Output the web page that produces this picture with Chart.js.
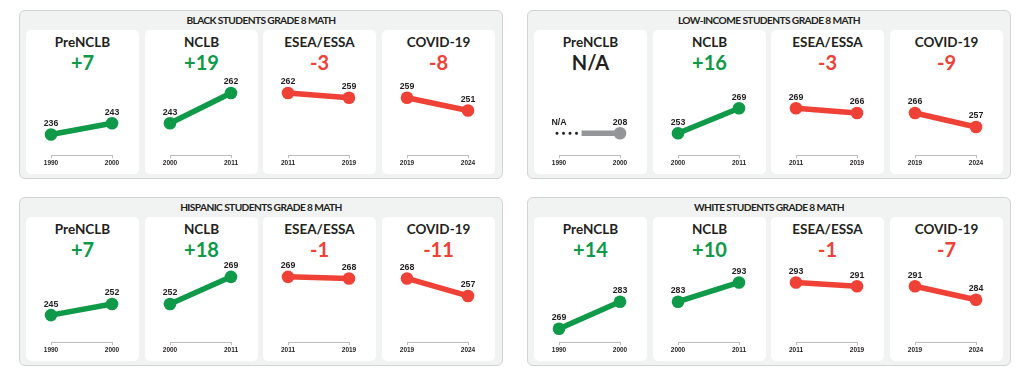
<!DOCTYPE html>
<html lang="en">

<head>
    <meta charset="UTF-8">
    <title>Grade 8 Math</title>
    <script src="https://cdn.jsdelivr.net/npm/chart.js"></script>

    <style>
        body {
            margin: 0;
            width: 1024px;
            height: 375px;
            background-color: #ffffff;
            position: relative;
            font-family: Lato, 'Open Sans', sans-serif;
            color: #231f20;
        }

        .painel {
            position: absolute;
            width: 484px;
            height: 169px;
            box-sizing: border-box;
            background-color: #f1f2f2;
            border: 1px solid #d1d3d4;
            border-radius: 6px;
        }

        .painel-titulo {
            position: absolute;
            top: 3px;
            width: 100%;
            text-align: center;
            font-weight: bold;
            font-size: 10.2px;
            letter-spacing: -0.6px;
        }

        .cartao {
            position: absolute;
            top: 19px;
            width: 113px;
            height: 144px;
            background-color: #ffffff;
            border-radius: 5px;
        }

        .cartao-titulo {
            position: absolute;
            top: 4px;
            width: 100%;
            text-align: center;
            font-weight: bold;
            font-size: 13.5px;
        }

        .cartao-numero {
            position: absolute;
            top: 20px;
            width: 100%;
            text-align: center;
            font-weight: bold;
            font-size: 20px;
        }

        .cartao canvas {
            position: absolute;
            left: 0;
            top: 36px;
        }
    </style>
</head>

<body>
</body>

</html>

<script>
    // dados
    var grupos = ['BLACK STUDENTS GRADE 8 MATH', 'LOW-INCOME STUDENTS GRADE 8 MATH',
        'HISPANIC STUDENTS GRADE 8 MATH', 'WHITE STUDENTS GRADE 8 MATH'];
    var periodos = ['PreNCLB', 'NCLB', 'ESEA/ESSA', 'COVID-19'];
    var anos = [['1990', '2000'], ['2000', '2011'], ['2011', '2019'], ['2019', '2024']];

    var black = [[236, 243], [243, 262], [262, 259], [259, 251]];
    var lowIncome = [[null, 208], [253, 269], [269, 266], [266, 257]];
    var hispanic = [[245, 252], [252, 269], [269, 268], [268, 257]];
    var white = [[269, 283], [283, 293], [293, 291], [291, 284]];

    // variacao publicada (calculada antes do arredondamento)
    var blackVar = [7, 19, -3, -8];
    var lowIncomeVar = [null, 16, -3, -9];
    var hispanicVar = [7, 18, -1, -11];
    var whiteVar = [14, 10, -1, -7];

    // limites do eixo y por grupo
    var eixoY = [[223, 275], [239, 292], [228, 280], [262, 305]];

    var dadosGrupos = [black, lowIncome, hispanic, white];
    var variacoes = [blackVar, lowIncomeVar, hispanicVar, whiteVar];

    var VERDE = '#0e9a48';
    var VERMELHO = '#ef4136';
    var CINZA = '#939598';
    var ESCURO = '#231f20';

    var fonteNarrow = "'Liberation Sans Narrow', 'Arial Narrow', sans-serif";

    // rotulos de valor + trecho N/A
    var rotulos = {
        id: 'rotulos',
        beforeDatasetsDraw(chart) {
            var vals = chart.data.datasets[0].data;
            if (vals[0] !== null) return;
            var ctx = chart.ctx;
            var x0 = chart.scales.x.getPixelForValue(0);
            var x1 = chart.scales.x.getPixelForValue(1);
            var y = chart.scales.y.getPixelForValue(vals[1]);
            var meio = x0 + (x1 - x0) * 0.37;
            ctx.save();
            ctx.lineCap = 'round';
            ctx.strokeStyle = ESCURO;
            ctx.lineWidth = 3;
            ctx.setLineDash([0, 6.5]);
            ctx.beginPath();
            ctx.moveTo(x0 - 2, y);
            ctx.lineTo(meio - 3, y);
            ctx.stroke();
            ctx.setLineDash([]);
            ctx.lineCap = 'butt';
            ctx.strokeStyle = CINZA;
            ctx.lineWidth = 5.5;
            ctx.beginPath();
            ctx.moveTo(meio, y);
            ctx.lineTo(x1, y);
            ctx.stroke();
            ctx.restore();
        },
        afterDatasetsDraw(chart) {
            var ctx = chart.ctx;
            var vals = chart.data.datasets[0].data;
            ctx.save();
            ctx.font = 'bold 8.8px ' + fonteNarrow;
            ctx.fillStyle = ESCURO;
            ctx.textAlign = 'center';
            ctx.textBaseline = 'middle';
            var yRef = chart.scales.y.getPixelForValue(vals[1]);
            vals.forEach((v, i) => {
                var x = chart.scales.x.getPixelForValue(i);
                if (v === null) {
                    ctx.fillText('N/A', x, yRef - 11);
                } else {
                    ctx.fillText(v, x, chart.scales.y.getPixelForValue(v) - 11);
                }
            });
            ctx.restore();
        }
    };

    grupos.forEach((titulo, g) => {
        var painel = document.createElement('div');
        painel.className = 'painel';
        painel.style.left = (19 + (g % 2) * 508) + 'px';
        painel.style.top = (10 + Math.floor(g / 2) * 187) + 'px';
        document.body.appendChild(painel);

        var pt = document.createElement('div');
        pt.className = 'painel-titulo';
        pt.textContent = titulo;
        painel.appendChild(pt);

        dadosGrupos[g].forEach((vals, p) => {
            var cartao = document.createElement('div');
            cartao.className = 'cartao';
            cartao.style.left = Math.round(6 + p * 118.7) + 'px';
            painel.appendChild(cartao);

            var ct = document.createElement('div');
            ct.className = 'cartao-titulo';
            ct.textContent = periodos[p];
            cartao.appendChild(ct);

            var dif = variacoes[g][p];
            var cor, texto, corTexto;
            if (dif === null) {
                cor = CINZA;
                corTexto = ESCURO;
                texto = 'N/A';
            } else {
                cor = dif >= 0 ? VERDE : VERMELHO;
                corTexto = cor;
                texto = (dif >= 0 ? '+' : '-') + Math.abs(dif);
            }

            var num = document.createElement('div');
            num.className = 'cartao-numero';
            num.textContent = texto;
            num.style.color = corTexto;
            cartao.appendChild(num);

            var canvas = document.createElement('canvas');
            canvas.width = 113;
            canvas.height = 108;
            cartao.appendChild(canvas);

            // sem valor inicial: alinha o ponto com o inicio do periodo seguinte
            var min = eixoY[g][0], max = eixoY[g][1];
            if (vals[0] === null) {
                var desloc = dadosGrupos[g][p + 1][0] - vals[1];
                min -= desloc;
                max -= desloc;
            }

            new Chart(canvas.getContext('2d'), {
                type: 'line',
                data: {
                    labels: anos[p],
                    datasets: [{
                        data: vals,
                        borderColor: cor,
                        backgroundColor: cor,
                        borderWidth: 5.5,
                        pointRadius: 6.3,
                        pointBorderWidth: 0,
                        clip: false
                    }]
                },
                options: {
                    responsive: false,
                    animation: false,
                    events: [],
                    layout: {
                        padding: { left: 25, right: 27, top: 4, bottom: 6 }
                    },
                    plugins: {
                        legend: { display: false },
                        tooltip: { enabled: false }
                    },
                    scales: {
                        x: {
                            offset: false,
                            grid: {
                                drawOnChartArea: false,
                                tickLength: 3,
                                color: '#bcbec0'
                            },
                            border: { color: '#bcbec0' },
                            ticks: {
                                padding: 1,
                                maxRotation: 0,
                                autoSkip: false,
                                color: ESCURO,
                                font: { size: 6.5, weight: 'bold', family: fonteNarrow }
                            }
                        },
                        y: {
                            display: false,
                            min: min,
                            max: max
                        }
                    }
                },
                plugins: [rotulos]
            });
        });
    });
</script>
